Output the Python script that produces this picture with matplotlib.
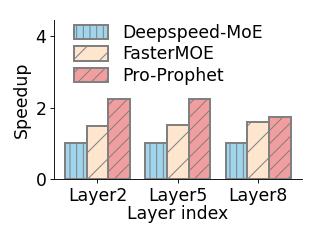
import numpy as np
import matplotlib.pyplot as plt

layers = ["Layer2", "Layer5", "Layer8"]
deepspeed = [1.0, 1.0, 1.0]
fastermoe = [1.48, 1.5, 1.59]
prophet = [2.25, 2.25, 1.73]

plt.rcParams['hatch.color'] = '#555555'
plt.rcParams['hatch.linewidth'] = 0.9

fig, ax = plt.subplots(figsize=(4, 3), dpi=80)
x = np.arange(len(layers))
w = 0.27
ax.bar(x - w, deepspeed, w, label="Deepspeed-MoE", color="#9fd6ee", edgecolor="gray", hatch="||", linewidth=1.8)
ax.bar(x, fastermoe, w, label="FasterMOE", color="#fde6cd", edgecolor="gray", hatch="/", linewidth=1.8)
ax.bar(x + w, prophet, w, label="Pro-Prophet", color="#f29e9e", edgecolor="gray", hatch="//", linewidth=1.8)

fs = 15.5
ax.set_xticks(x)
ax.set_xticklabels(layers, fontsize=fs)
ax.set_yticks([0, 2, 4])
ax.tick_params(axis='y', labelsize=fs)
ax.set_xlim(-0.54, 2.545)
ax.set_ylim(0, 4.45)
ax.set_xlabel("Layer index", fontsize=fs, labelpad=0)
ax.set_ylabel("Speedup", fontsize=fs)
ax.spines['top'].set_visible(False)
ax.spines['right'].set_visible(False)
ax.legend(fontsize=fs, frameon=False, loc="upper left", bbox_to_anchor=(74 / 320, 1 - 24 / 240),
          bbox_transform=fig.transFigure, borderpad=0, borderaxespad=0,
          handlelength=2.0, handleheight=0.9, handletextpad=0.8, labelspacing=0.2)
fig.subplots_adjust(left=0.169, right=0.944, bottom=0.254, top=0.917)
fig.savefig("out.png")
